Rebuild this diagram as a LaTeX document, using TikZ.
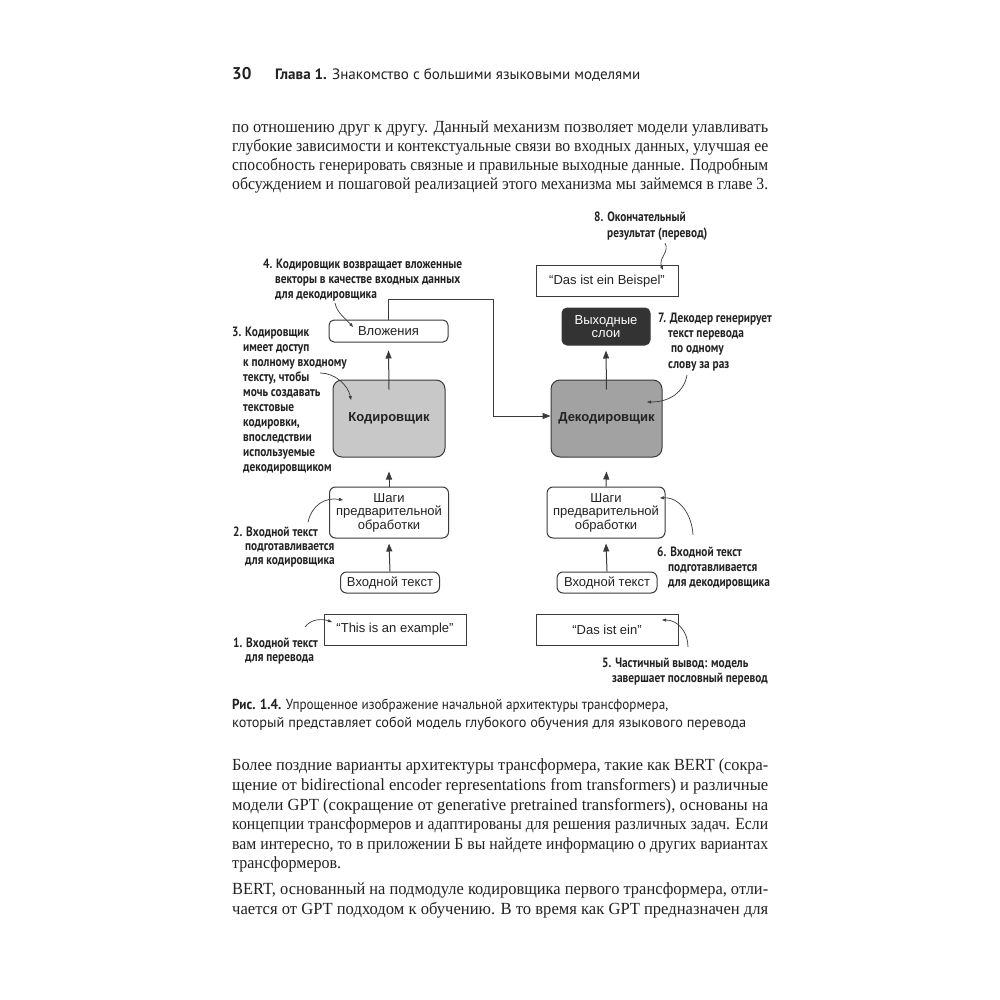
\documentclass[tikz,border=0pt]{standalone}
\usepackage{fontspec}
\usepackage{graphicx}
\usetikzlibrary{arrows.meta}
\setmainfont{Liberation Serif}
\newfontfamily\bodyfont{Liberation Serif}
\newfontfamily\headfont{PT Sans}
\newfontfamily\annfont[FakeStretch=0.84]{PT Sans}
\newfontfamily\boxfont{Liberation Sans}
\definecolor{ink}{HTML}{222222}
\definecolor{lineink}{HTML}{3a3a3a}
\definecolor{encfill}{HTML}{C8C8C8}
\definecolor{decfill}{HTML}{A2A2A2}
\definecolor{outfill}{HTML}{333333}
\newcommand{\bline}[2]{\resizebox{#1}{\height}{#2}}
\tikzset{
  bodyline/.style={anchor=base west, inner sep=0pt, text=ink, font=\bodyfont\fontsize{17}{19}\selectfont},
  headline/.style={anchor=base west, inner sep=0pt, text=ink, font=\headfont\fontsize{15}{18}\selectfont},
  annot/.style={anchor=base west, inner sep=0pt, align=left, text=ink, font=\annfont\bfseries\fontsize{13.5}{15}\selectfont},
  boxbase/.style={draw=lineink, line width=1pt, inner sep=0pt, text=ink, font=\boxfont\fontsize{13}{13.5}\selectfont, align=center},
  rbox/.style={boxbase, rounded corners=5pt},
  sbox/.style={boxbase},
  flow/.style={draw=lineink, line width=1pt, -{Triangle[length=8pt,width=6pt]}},
  pointer/.style={draw=lineink, line width=0.7pt, -{Triangle[length=4pt,width=3pt]}},
}
\begin{document}
\begin{tikzpicture}[x=1pt,y=-1pt]
\fill[white] (0,0) rectangle (1000,1000);
\useasboundingbox (0,0) rectangle (1000,1000);

% header
\node[headline, font=\headfont\bfseries\fontsize{17}{18}\selectfont] (pg) at (232,80) {30};
\node[headline] (hd) at (275,80) {\bline{365pt}{\textbf{Глава 1.} Знакомство с большими языковыми моделями}};

% first paragraph
\node[bodyline] (t1) at (232,133) {\bline{536pt}{по отношению друг к другу. Данный механизм позволяет модели улавливать}};
\node[bodyline] (t2) at (232,152) {\bline{536pt}{глубокие зависимости и контекстуальные связи во входных данных, улучшая ее}};
\node[bodyline] (t3) at (232,171) {\bline{536pt}{способность генерировать связные и правильные выходные данные. Подробным}};
\node[bodyline] (t4) at (232,190) {\bline{536pt}{обсуждением и пошаговой реализацией этого механизма мы займемся в главе 3.}};

% boxes, encoder side
\node[rbox, minimum width=119pt, minimum height=22pt] (emb) at (388.5,331) {Вложения};
\node[rbox, rounded corners=9pt, fill=encfill, minimum width=112pt, minimum height=77pt, font=\boxfont\bfseries\fontsize{13}{13.5}\selectfont] (enc) at (389,418.5) {Кодировщик};
\node[rbox, rounded corners=6pt, minimum width=119pt, minimum height=51pt] (preL) at (389,512.5) {Шаги\\предварительной\\обработки};
\node[rbox, rounded corners=6pt, minimum width=99pt, minimum height=21pt] (inL) at (390,582.5) {Входной текст};
\node[sbox, minimum width=142pt, minimum height=31pt] (srcL) at (395,629.5) {“This is an example”};

% boxes, decoder side
\node[sbox, minimum width=142pt, minimum height=31pt] (outR) at (607,281) {“Das ist ein Beispel”};
\node[rbox, fill=outfill, text=white, minimum width=88pt, minimum height=37pt] (lay) at (606,326.5) {Выходные\\слои};
\node[rbox, rounded corners=9pt, fill=decfill, minimum width=111pt, minimum height=77pt, font=\boxfont\bfseries\fontsize{13}{13.5}\selectfont] (dec) at (606.5,418.5) {Декодировщик};
\node[rbox, rounded corners=6pt, minimum width=118pt, minimum height=51pt] (preR) at (606,512.5) {Шаги\\предварительной\\обработки};
\node[rbox, rounded corners=6pt, minimum width=100pt, minimum height=21pt] (inR) at (607,582.5) {Входной текст};
\node[sbox, minimum width=142pt, minimum height=31pt] (partR) at (607,629.5) {“Das ist ein”};

% flow arrows
\path[flow] ([yshift=-10pt]enc.north) -- ([yshift=-8pt]emb.south);
\path[flow] (preL.north) -- ([yshift=-14pt]enc.south);
\path[flow] (inL.north) -- ([yshift=-5pt]preL.south);
\path[flow] ([yshift=-10pt]dec.north) -- ([yshift=-5pt]lay.south);
\path[flow] (preR.north) -- ([yshift=-14pt]dec.south);
\path[flow] (inR.north) -- ([yshift=-5pt]preR.south);
\coordinate (bendA) at (388.5,299);
\coordinate (bendB) at (493,299);
\coordinate (bendC) at (493,416);
\path[flow] (emb.north) -- (bendA) -- (bendB) -- (bendC) -- (dec.west |- bendC);

% annotations (anchor = baseline of the last line)
\node[annot, font=\annfont\bfseries\fontsize{13.5}{16}\selectfont] (a8) at (594,237) {8. Окончательный\\\hspace*{13pt}результат (перевод)};
\node[annot, font=\annfont\bfseries\fontsize{13.5}{15.3}\selectfont] (a7) at (658,368) {7. Декодер генерирует\\\hspace*{10pt}текст перевода\\\hspace*{13pt}по одному\\\hspace*{10pt}слову за раз};
\node[annot] (a4) at (263,298) {4. Кодировщик возвращает вложенные\\\hspace*{12pt}векторы в качестве входных данных\\\hspace*{12pt}для декодировщика};
\node[annot] (a3) at (232,471) {3. Кодировщик\\\hspace*{11pt}имеет доступ\\\hspace*{11pt}к полному входному\\\hspace*{11pt}тексту, чтобы\\\hspace*{11pt}мочь создавать\\\hspace*{11pt}текстовые\\\hspace*{11pt}кодировки,\\\hspace*{11pt}впоследствии\\\hspace*{11pt}используемые\\\hspace*{11pt}декодировщиком};
\node[annot, font=\annfont\bfseries\fontsize{13.5}{14}\selectfont] (a2) at (233,564) {2. Входной текст\\\hspace*{12pt}подготавливается\\\hspace*{12pt}для кодировщика};
\node[annot, font=\annfont\bfseries\fontsize{13.5}{14}\selectfont] (a1) at (233,661) {1. Входной текст\\\hspace*{12pt}для перевода};
\node[annot] (a6) at (657,586) {6. Входной текст\\\hspace*{11pt}подготавливается\\\hspace*{11pt}для декодировщика};
\node[annot] (a5) at (602,682) {5. Частичный вывод: модель\\\hspace*{10pt}завершает пословный перевод};

% annotation pointers
\coordinate (s8) at (665,243); \coordinate (e8) at (663,270);
\coordinate (s4) at (335,303); \coordinate (e4) at (353,327);
\coordinate (s3) at (320,373); \coordinate (e3) at (351,400);
\coordinate (s2) at (308,522); \coordinate (e2) at (343,500);
\coordinate (s1) at (305,627); \coordinate (e1) at (332,622);
\coordinate (s6) at (693,535); \coordinate (e6) at (660,498);
\coordinate (s5) at (688,647); \coordinate (e5) at (662,620);
\coordinate (s7) at (687,375); \coordinate (e7) at (647,402);
\path[pointer] (s8) .. controls (670,252) and (658,258) .. (e8);
\path[pointer] (s4) .. controls (337,313) and (345,318) .. (e4);
\path[pointer] (s3) .. controls (335,373) and (348,385) .. (e3);
\path[pointer] (s2) .. controls (312,505) and (325,497) .. (e2);
\path[pointer] (s1) .. controls (310,620) and (320,618) .. (e1);
\path[pointer] (s6) .. controls (692,515) and (680,497) .. (e6);
\path[pointer] (s5) .. controls (688,632) and (678,620) .. (e5);
\path[pointer] (s7) .. controls (684,392) and (670,402) .. (e7);

% caption
\node[headline, font=\headfont\fontsize{14.5}{18}\selectfont] (c1) at (232,709) {\bline{436pt}{\textbf{Рис. 1.4.} Упрощенное изображение начальной архитектуры трансформера,}};
\node[headline, font=\headfont\fontsize{14.5}{18}\selectfont] (c2) at (232,727.5) {\bline{514pt}{который представляет собой модель глубокого обучения для языкового перевода}};

% second paragraph
\node[bodyline] (u1) at (232,770.5) {\bline{536pt}{Более поздние варианты архитектуры трансформера, такие как BERT (сокра-}};
\node[bodyline] (u2) at (232,790) {\bline{536pt}{щение от bidirectional encoder representations from transformers) и различные}};
\node[bodyline] (u3) at (232,810) {\bline{536pt}{модели GPT (сокращение от generative pretrained transformers), основаны на}};
\node[bodyline] (u4) at (232,829.5) {\bline{536pt}{концепции трансформеров и адаптированы для решения различных задач. Если}};
\node[bodyline] (u5) at (232,849) {\bline{536pt}{вам интересно, то в приложении Б вы найдете информацию о других вариантах}};
\node[bodyline] (u6) at (232,868.5) {\bline{109pt}{трансформеров.}};

% third paragraph
\node[bodyline] (v1) at (232,894.5) {\bline{536pt}{BERT, основанный на подмодуле кодировщика первого трансформера, отли-}};
\node[bodyline] (v2) at (232,914) {\bline{536pt}{чается от GPT подходом к обучению. В то время как GPT предназначен для}};
\end{tikzpicture}
\end{document}
